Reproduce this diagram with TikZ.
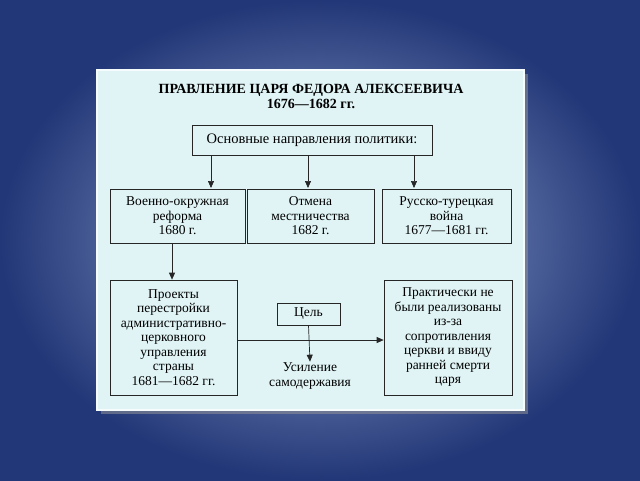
\documentclass[tikz,border=0pt]{standalone}
\usepackage{fontspec}
\setmainfont{Liberation Serif}
\usetikzlibrary{arrows.meta}
\definecolor{bgin}{HTML}{9AABD6}
\definecolor{bgout}{HTML}{223777}
\definecolor{panel}{HTML}{E0F4F6}
\tikzset{
  box/.style={draw=black!85, line width=0.7pt, fill=panel, align=center, inner sep=0pt, font=\fontsize{13.5}{14.5}\selectfont},
  arr/.style={-{Triangle[length=7pt,width=6pt]}, line width=0.7pt, draw=black!85},
}
\begin{document}
\begin{tikzpicture}[x=1pt,y=-1pt]
\useasboundingbox (0,0) rectangle (640,480);
\shade[inner color=bgin, outer color=bgout] (0,0) rectangle (640,480);
\fill[black!40,opacity=0.5] (101,74) rectangle (528,414);
\fill[panel, draw=white!70!panel, line width=2pt] (97,70) rectangle (524,410);
\node[font=\bfseries\fontsize{14}{15}\selectfont, align=center] (title) at (311,96) {ПРАВЛЕНИЕ ЦАРЯ ФЕДОРА АЛЕКСЕЕВИЧА\\1676—1682 гг.};
\node[box, minimum width=240pt, minimum height=30pt, font=\fontsize{14.5}{15}\selectfont] (top) at (312,140) {Основные направления политики:};
\node[box, minimum width=135pt, minimum height=54pt] (b1) at (177.5,216) {Военно-окружная\\реформа\\1680 г.};
\node[box, minimum width=127pt, minimum height=54pt] (b2) at (310.5,216) {Отмена\\местничества\\1682 г.};
\node[box, minimum width=129pt, minimum height=54pt] (b3) at (446.5,216) {Русско-турецкая\\война\\1677—1681 гг.};
\node[box, minimum width=127pt, minimum height=115pt] (p) at (173.5,337.5) {Проекты\\перестройки\\административно-\\церковного\\управления\\страны\\1681—1682 гг.};
\node[box, minimum width=128pt, minimum height=115pt] (r) at (448,337.5) {Практически не\\были реализованы\\из-за\\сопротивления\\церкви и ввиду\\ранней смерти\\царя};
\node[box, minimum width=63pt, minimum height=22pt] (goal) at (308.5,314) {Цель};
\node[align=center, font=\fontsize{13.5}{14.5}\selectfont, inner sep=1pt] (aim) at (310,376) {Усиление\\самодержавия};
\draw[arr] (top.south -| 211,0) -- (211,188);
\draw[arr] (top.south -| 308,0) -- (308,188);
\draw[arr] (top.south -| 414,0) -- (414,188);
\draw[arr] (b1.south -| 172,0) -- (p.north -| 172,0);
\draw[arr] (p.east |- 0,340) -- (r.west |- 0,340);
\draw[arr] (goal.south) -- (aim.north);
\end{tikzpicture}
\end{document}
